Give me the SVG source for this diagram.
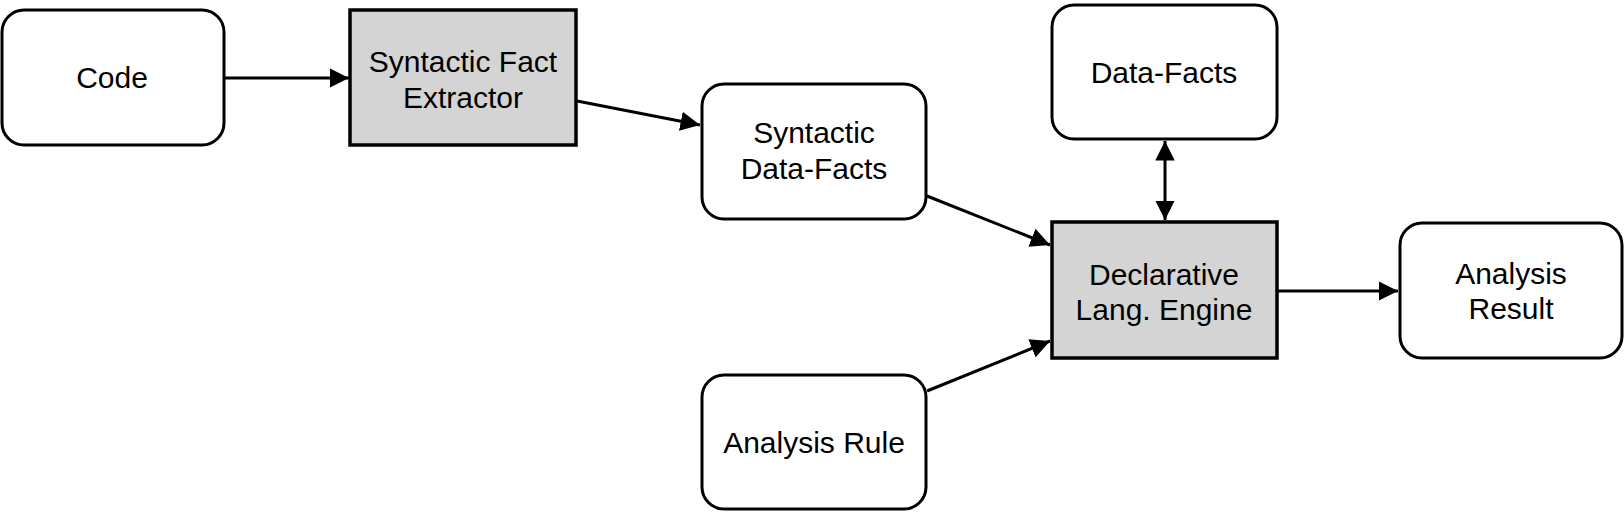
<svg xmlns="http://www.w3.org/2000/svg" width="1624" height="512" viewBox="0 0 1624 512">
<defs>
<style>
.box{fill:#fff;stroke:#000;stroke-width:3}
.proc{fill:#d4d4d4;stroke:#000;stroke-width:3.5}
.lbl{font-family:"Liberation Sans",Arial,sans-serif;font-size:30px;fill:#000;text-anchor:middle}
.edge{stroke:#000;stroke-width:3;fill:none}
</style>
<marker id="ah" viewBox="0 0 10 10" refX="10" refY="5" markerWidth="6.5" markerHeight="6.5" orient="auto-start-reverse" markerUnits="strokeWidth">
<path d="M0,0 L10,5 L0,10 Z" fill="#000"/>
</marker>
</defs>
<g id="code"><rect class="box" x="2" y="10" width="222" height="135" rx="22"/><text class="lbl" x="112" y="88">Code</text></g>
<g id="extractor"><rect class="proc" x="350" y="10" width="226" height="135"/><text class="lbl" x="463" y="72">Syntactic Fact</text><text class="lbl" x="463" y="108">Extractor</text></g>
<g id="syntactic-data-facts"><rect class="box" x="702" y="84" width="224" height="135" rx="22"/><text class="lbl" x="814" y="143">Syntactic</text><text class="lbl" x="814" y="179">Data-Facts</text></g>
<g id="data-facts"><rect class="box" x="1052" y="5" width="225" height="134" rx="22"/><text class="lbl" x="1164" y="83">Data-Facts</text></g>
<g id="engine"><rect class="proc" x="1052" y="222" width="225" height="136"/><text class="lbl" x="1164" y="285">Declarative</text><text class="lbl" x="1164" y="320">Lang. Engine</text></g>
<g id="analysis-rule"><rect class="box" x="702" y="375" width="224" height="134" rx="22"/><text class="lbl" x="814" y="453">Analysis Rule</text></g>
<g id="analysis-result"><rect class="box" x="1400" y="223" width="222" height="135" rx="22"/><text class="lbl" x="1511" y="284">Analysis</text><text class="lbl" x="1511" y="319">Result</text></g>
<g id="connectors">
<line class="edge" x1="225" y1="78" x2="349" y2="78" marker-end="url(#ah)"/>
<line class="edge" x1="577" y1="101" x2="700" y2="125" marker-end="url(#ah)"/>
<line class="edge" x1="927" y1="196" x2="1050" y2="245" marker-end="url(#ah)"/>
<line class="edge" x1="927" y1="391" x2="1050" y2="341" marker-end="url(#ah)"/>
<line class="edge" x1="1165" y1="141" x2="1165" y2="220" marker-start="url(#ah)" marker-end="url(#ah)"/>
<line class="edge" x1="1278" y1="291" x2="1398" y2="291" marker-end="url(#ah)"/>
</g>
</svg>
